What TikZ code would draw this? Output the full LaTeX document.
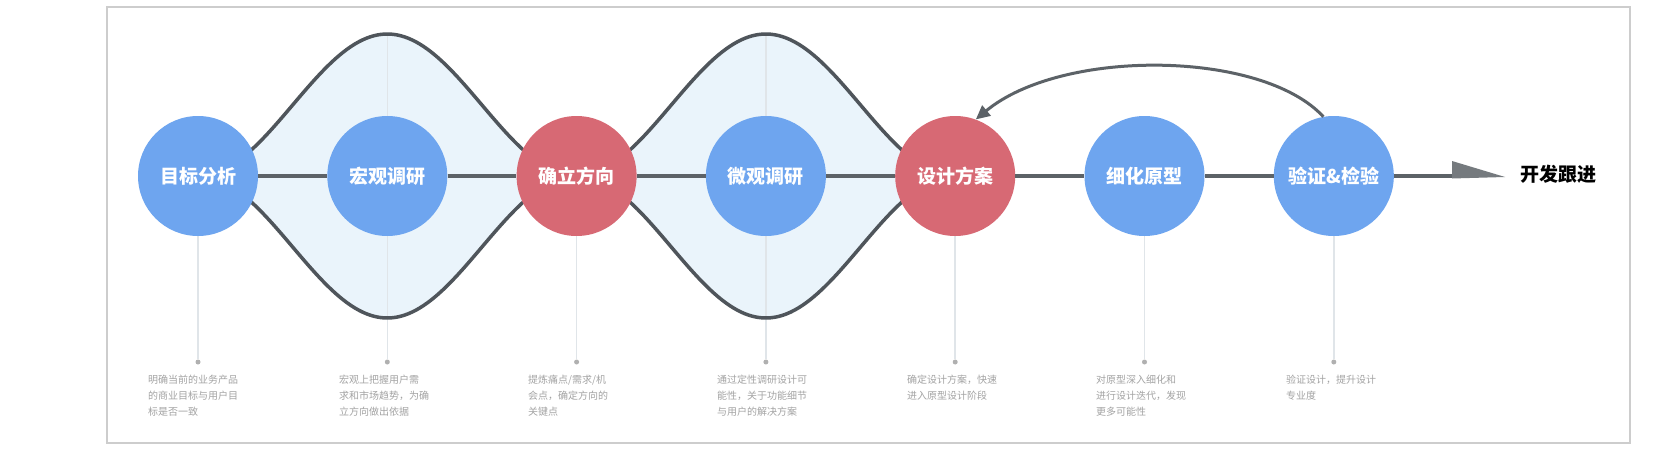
\documentclass[tikz,border=0pt]{standalone}
\usepackage{fontspec}
\setmainfont{Noto Sans CJK SC}
\usetikzlibrary{arrows.meta}
\definecolor{cblue}{HTML}{6EA5EF}
\definecolor{cred}{HTML}{D76974}
\definecolor{curvegray}{HTML}{4F555B}
\definecolor{linegray}{HTML}{5C6267}
\definecolor{bulgefill}{HTML}{EAF4FB}
\definecolor{framegray}{HTML}{CDCDCD}
\definecolor{descgray}{HTML}{A3A3A3}
\definecolor{guidegray}{HTML}{E0E5E9}
\definecolor{dotgray}{HTML}{B0B0B0}
\begin{document}
\begin{tikzpicture}[x=1pt,y=-1pt,
  stage/.style={circle,minimum size=120pt,inner sep=0pt,text=white,
    font=\fontsize{19}{19}\selectfont\bfseries},
  bluestage/.style={stage,fill=cblue},
  redstage/.style={stage,fill=cred},
  desc/.style={anchor=north west,align=left,text=descgray,
    font=\fontsize{10}{16}\selectfont,inner sep=0pt},
  dotnode/.style={circle,fill=dotgray,minimum size=5pt,inner sep=0pt},
  guide/.style={draw=guidegray,line width=1.5pt},
  bulgeline/.style={draw=curvegray,line width=3.5pt},
  mainline/.style={draw=linegray,line width=4.5pt},
  backarrow/.style={draw=linegray,line width=3pt,-{Triangle[length=14pt,width=13pt]}},
  framebox/.style={draw=framegray,line width=2.5pt}
]
\useasboundingbox (0,0) rectangle (1680,452);
\fill[white] (0,0) rectangle (1680,452);
\draw[framebox] (107,7) rectangle (1630,443);

% bulges
\foreach \s in {198,576.6}{
  \fill[bulgefill] plot[domain=0:1,samples=90] ({\s+378.6*\x},{176-142*(1-cos(360*\x))/2})
    -- plot[domain=1:0,samples=90] ({\s+378.6*\x},{176+142*(1-cos(360*\x))/2}) -- cycle;
}

% dots and guides
\foreach \i/\xx in {1/198,2/387.3,3/576.6,4/765.9,5/955.2,6/1144.5,7/1333.8}{
  \node[dotnode] (d\i) at (\xx,362) {};
  \draw[guide] (\xx,176) -- (d\i);
}
\coordinate (p2) at (387.3,36);
\coordinate (p4) at (765.9,36);
\draw[guide] (p2) -- (d2);
\draw[guide] (p4) -- (d4);

\foreach \s in {198,576.6}{
  \draw[bulgeline] plot[domain=0.05:0.95,samples=90] ({\s+378.6*\x},{176-142*(1-cos(360*\x))/2});
  \draw[bulgeline] plot[domain=0.05:0.95,samples=90] ({\s+378.6*\x},{176+142*(1-cos(360*\x))/2});
}

% stage nodes
\node[bluestage] (c1) at (198,176) {目标分析};
\node[bluestage] (c2) at (387.3,176) {宏观调研};
\node[redstage]  (c3) at (576.6,176) {确立方向};
\node[bluestage] (c4) at (765.9,176) {微观调研};
\node[redstage]  (c5) at (955.2,176) {设计方案};
\node[bluestage] (c6) at (1144.5,176) {细化原型};
\node[bluestage] (c7) at (1333.8,176) {验证\&检验};

\coordinate (ahbase) at (1453,176);
\node[font=\fontsize{19}{19}\selectfont\bfseries,text=black,inner sep=0pt] (goal) at (1558,174) {开发跟进};

% main line
\draw[mainline] (c1.east) -- (c2.west);
\draw[mainline] (c2.east) -- (c3.west);
\draw[mainline] (c3.east) -- (c4.west);
\draw[mainline] (c4.east) -- (c5.west);
\draw[mainline] (c5.east) -- (c6.west);
\draw[mainline] (c6.east) -- (c7.west);
\draw[mainline] (c7.east) -- (ahbase);
\fill[linegray!85] (1452,161) -- (1505,177) -- (1452,178.5) -- cycle;

% back arrow
\draw[backarrow] (c7.100) .. controls (1262,50) and (1062,48) .. (c5.70);

% descriptions
\node[desc] (t1) at (148,375) {明确当前的业务产品\\的商业目标与用户目\\标是否一致};
\node[desc] (t2) at (339,375) {宏观上把握用户需\\求和市场趋势，为确\\立方向做出依据};
\node[desc] (t3) at (528,375) {提炼痛点/需求/机\\会点，确定方向的\\关键点};
\node[desc] (t4) at (717,375) {通过定性调研设计可\\能性，关于功能细节\\与用户的解决方案};
\node[desc] (t5) at (907,375) {确定设计方案，快速\\进入原型设计阶段};
\node[desc] (t6) at (1096,375) {对原型深入细化和\\进行设计迭代，发现\\更多可能性};
\node[desc] (t7) at (1286,375) {验证设计，提升设计\\专业度};
\end{tikzpicture}
\end{document}
